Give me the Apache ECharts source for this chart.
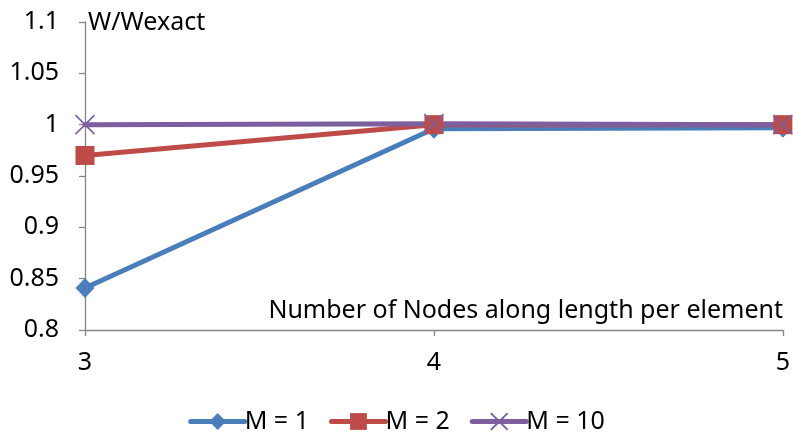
<!DOCTYPE html>
<html>
<head>
<meta charset="utf-8">
<script src="https://cdn.jsdelivr.net/npm/echarts@6/dist/echarts.min.js"></script>
<style>
  html, body { margin: 0; padding: 0; background: #fff; }
  #chart { width: 793px; height: 433px; }
</style>
</head>
<body>
<div id="chart"></div>
<script>
// Nodes along length per element
const categories = ['3', '4', '5'];
// W/Wexact for each mesh refinement M
const seriesM1 = [0.841, 0.996, 0.997];
const seriesM2 = [0.970, 1.000, 1.000];
const seriesM10 = [1.000, 1.001, 1.000];
const seriesNames = ['M = 1', 'M = 2', 'M = 10'];
const yTicks = { min: 0.8, max: 1.1, step: 0.05 };

const FONT = 'Noto Sans';
const FONT_SIZE = 25;
const AXIS_GRAY = '#868686';

const chart = echarts.init(document.getElementById('chart'), null, { renderer: 'canvas' });

function lineSeries(name, data, color, symbol, symbolSize) {
  return {
    name: name,
    type: 'line',
    data: data,
    symbol: symbol,
    symbolSize: symbolSize,
    showAllSymbol: true,
    lineStyle: { width: 5, color: color, cap: 'round' },
    itemStyle: { color: color, borderWidth: 0 },
    emphasis: { disabled: true },
    animation: false
  };
}

const crossPath = 'path://M0,0 L10,10 M10,0 L0,10';

chart.setOption({
  animation: false,
  grid: { left: 85, right: 8, top: 22, bottom: 103, containLabel: false },
  legend: {
    bottom: -6,
    left: 'center',
    itemWidth: 54,
    itemHeight: 21,
    itemGap: 20,
    textStyle: { fontFamily: FONT, fontSize: FONT_SIZE, color: '#000', padding: [0, 0, 0, -5] },
    lineStyle: { width: 5 },
    data: seriesNames.map(n => ({ name: n }))
  },
  xAxis: {
    type: 'category',
    data: categories,
    boundaryGap: false,
    axisLine: { lineStyle: { color: AXIS_GRAY, width: 1.3 } },
    axisTick: { show: true, alignWithLabel: true, length: 6, lineStyle: { color: AXIS_GRAY, width: 1.3 } },
    axisLabel: { fontFamily: FONT, fontSize: FONT_SIZE, color: '#000', margin: 20 },
    splitLine: { show: false }
  },
  yAxis: {
    type: 'value',
    min: yTicks.min,
    max: yTicks.max,
    interval: yTicks.step,
    axisLine: { show: true, lineStyle: { color: AXIS_GRAY, width: 1.3 } },
    axisTick: { show: true, length: 6, lineStyle: { color: AXIS_GRAY, width: 1.3 } },
    axisLabel: {
      fontFamily: FONT, fontSize: FONT_SIZE, color: '#000', margin: 26,
      formatter: v => String(parseFloat(v.toFixed(2)))
    },
    splitLine: { show: false }
  },
  graphic: [
    {
      type: 'text', x: 88, y: 23,
      style: { text: 'W/Wexact', fontFamily: FONT, fontSize: FONT_SIZE, fill: '#000',
               textAlign: 'left', textVerticalAlign: 'middle' }
    },
    {
      type: 'text', x: 783, y: 311,
      style: { text: 'Number of Nodes along length per element', fontFamily: FONT, fontSize: FONT_SIZE,
               fill: '#000', textAlign: 'right', textVerticalAlign: 'middle' }
    }
  ],
  series: [
    lineSeries(seriesNames[0], seriesM1, '#4a7ebb', 'diamond', [19, 20]),
    lineSeries(seriesNames[1], seriesM2, '#be4b48', 'rect', 19),
    Object.assign(lineSeries(seriesNames[2], seriesM10, '#7d5fa0', crossPath, 19), {
      itemStyle: { color: 'none', borderColor: '#7d5fa0', borderWidth: 1.6 }
    })
  ]
});
</script>
</body>
</html>
